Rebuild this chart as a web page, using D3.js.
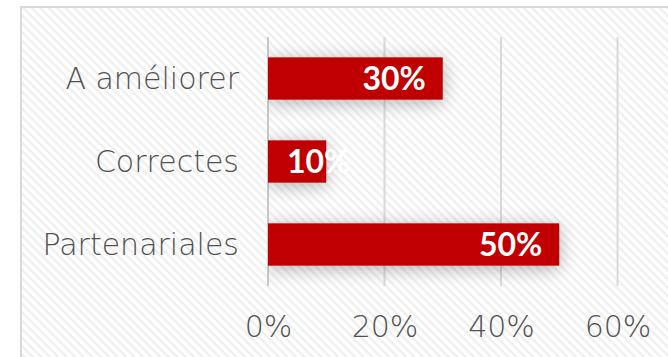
<!DOCTYPE html>
<html>
<head>
<meta charset="utf-8">
<script src="https://cdn.jsdelivr.net/npm/d3@7"></script>
<style>
	body { margin: 0; background: #fff; }
	svg { display: block; }
</style>
</head>
<body>
<div id="chart"></div>
<script>
// data
const categories = ['A améliorer', 'Correctes', 'Partenariales'];
const values = [0.3, 0.1, 0.5];
const ticks = [0, 0.2, 0.4, 0.6];

const W = 668;
const H = 357;
const plot = { left: 268, right: 617.5, top: 37, bottom: 286 };
const labelFont = '"Century Gothic", "URW Gothic", "DejaVu Sans", sans-serif';

const svg = d3.select('#chart').append('svg').attr('width', W).attr('height', H);
const defs = svg.append('defs');

// diagonal stripes background
const pat = defs.append('pattern')
	.attr('id', 'stripes')
	.attr('patternUnits', 'userSpaceOnUse')
	.attr('width', 6)
	.attr('height', 6)
	.attr('patternTransform', 'rotate(45)');
pat.append('rect').attr('width', 6).attr('height', 6).attr('fill', '#ffffff');
pat.append('rect').attr('width', 6).attr('height', 2.4).attr('fill', '#efefef');

// bar shadow
const filt = defs.append('filter').attr('id', 'shadow')
	.attr('x', '-50%').attr('y', '-100%').attr('width', '200%').attr('height', '300%');
filt.append('feGaussianBlur').attr('in', 'SourceAlpha').attr('stdDeviation', 9).attr('result', 'b');
filt.append('feOffset').attr('in', 'b').attr('dx', 0).attr('dy', 3).attr('result', 'o');
filt.append('feComponentTransfer').attr('in', 'o').attr('result', 's')
	.append('feFuncA').attr('type', 'linear').attr('slope', 0.3);
const merge = filt.append('feMerge');
merge.append('feMergeNode').attr('in', 's');
merge.append('feMergeNode').attr('in', 'SourceGraphic');

defs.append('clipPath').attr('id', 'plotclip')
	.append('rect')
	.attr('x', plot.left).attr('y', plot.top)
	.attr('width', W - plot.left).attr('height', plot.bottom - plot.top);

// chart area
svg.append('rect')
	.attr('x', 21).attr('y', 7)
	.attr('width', W).attr('height', H)
	.attr('fill', 'url(#stripes)')
	.attr('stroke', '#d9d9d9')
	.attr('stroke-width', 2);

const x = d3.scaleLinear().domain([0, 0.6]).range([plot.left, plot.right]);
const y = d3.scaleBand().domain(categories).range([plot.top, plot.bottom])
	.paddingInner(0.49).paddingOuter(0.245);

// gridlines
svg.append('g')
	.selectAll('line')
	.data(ticks)
	.join('line')
	.attr('x1', (d) => x(d))
	.attr('x2', (d) => x(d))
	.attr('y1', plot.top)
	.attr('y2', plot.bottom)
	.attr('stroke', (d) => (d === 0 ? '#c8c8c8' : '#d9d9d9'))
	.attr('stroke-width', 2);

// bars (shadow clipped to plot area)
svg.append('g')
	.attr('clip-path', 'url(#plotclip)')
	.selectAll('rect')
	.data(categories)
	.join('rect')
	.attr('x', x(0))
	.attr('y', (d) => y(d))
	.attr('width', (d, i) => x(values[i]) - x(0))
	.attr('height', y.bandwidth())
	.attr('fill', '#c00000')
	.attr('filter', 'url(#shadow)');

// x axis labels
const xAxis = svg.append('g')
	.attr('transform', 'translate(0,' + 337 + ')')
	.call(d3.axisBottom(x).tickValues(ticks).tickFormat(d3.format('.0%')).tickSize(0).tickPadding(0));
xAxis.select('.domain').remove();
xAxis.selectAll('text')
	.attr('dy', 0)
	.attr('fill', '#505050')
	.style('font-family', labelFont)
	.style('font-weight', 200)
	.style('font-size', '30px');

// category labels
const yAxis = svg.append('g')
	.attr('transform', 'translate(' + 239 + ',0)')
	.call(d3.axisLeft(y).tickSize(0).tickPadding(0));
yAxis.select('.domain').remove();
yAxis.selectAll('text')
	.attr('dy', '0.36em')
	.attr('fill', '#505050')
	.style('font-family', labelFont)
	.style('font-weight', 200)
	.style('font-size', '30px');

// data labels
const fmt = d3.format('.0%');
svg.append('g')
	.selectAll('text')
	.data(categories)
	.join('text')
	.attr('y', (d) => y(d) + y.bandwidth() / 2)
	.attr('dy', '0.36em')
	.attr('text-anchor', 'end')
	.attr('fill', '#ffffff')
	.style('font-family', 'Lato, sans-serif')
	.style('font-weight', 'bold')
	.style('font-size', '32px')
	.text((d, i) => fmt(values[i]))
	.attr('x', function (d, i) {
		const w = this.getComputedTextLength();
		return Math.max(x(values[i]) - 17, x(0) + 19 + w);
	});
</script>
</body>
</html>
